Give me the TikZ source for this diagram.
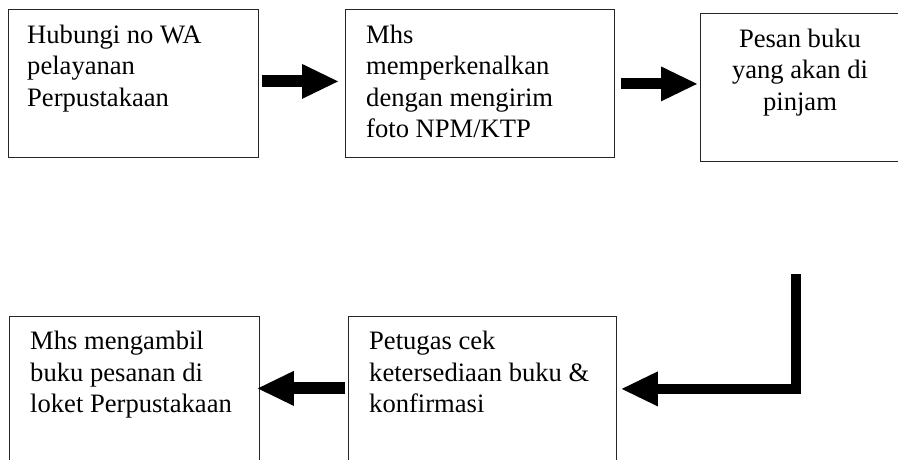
\documentclass[tikz,border=0pt]{standalone}
\usepackage{fontspec}
\setmainfont{Liberation Serif}
\usetikzlibrary{arrows.meta,calc}
\tikzset{
  box/.style={draw=black!85, line width=0.8pt, anchor=north west, inner sep=0pt, minimum height=148pt},
  lowbox/.style={box, minimum height=144pt},
  txt/.style={anchor=base west, inner sep=0pt, align=left, font=\fontsize{26.6}{31.5}\selectfont},
  ctxt/.style={txt, anchor=base, align=center},
  fat/.style={line width=#1, -{Triangle[length=36pt, width=35pt, line width=0pt]}},
}
\begin{document}
\begin{tikzpicture}[x=1pt, y=-1pt]
\useasboundingbox (0,0) rectangle (898,459);
\clip (0,0) rectangle (898,459);
\fill[white] (0,0) rectangle (898,459);
% boxes
\node[box, minimum width=250pt] (b1) at (8,9) {};
\node[box, minimum width=269pt] (b2) at (345,9) {};
\node[box, minimum width=210pt] (b3) at (700,13) {};
\node[lowbox, minimum width=250pt] (b4) at (9,316) {};
\node[lowbox, minimum width=268pt] (b5) at (348,316) {};
% texts (anchored at the baseline of the last line)
\node[txt] (t1) at (27,106) {Hubungi no WA\\pelayanan\\Perpustakaan};
\node[txt] (t2) at (366,137.5) {Mhs\\memperkenalkan\\dengan mengirim\\foto NPM/KTP};
\node[ctxt] (t3) at (800,110) {Pesan buku\\yang akan di\\pinjam};
\node[txt] (t4) at (30,412.5) {Mhs mengambil\\buku pesanan di\\loket Perpustakaan};
\node[txt] (t5) at (369,412.5) {Petugas cek\\ketersediaan buku \&\\konfirmasi};
% connectors
\coordinate (e4s) at (796,274);
\draw[fat=12pt] ($(b1.east)+(3,-2)$) -- ($(b2.west)+(-7,-2)$);
\draw[fat=11pt] ($(b2.east)+(6,0.5)$) -- ($(b3.west|-b2.east)+(-3,0.5)$);
\draw[fat=12pt] ($(b5.west)+(-3,0)$) -- ($(b4.east)+(-2,0)$);
\draw[fat=10.5pt, line join=miter] (e4s) |- ($(b5.east)+(5,0.5)$);
\end{tikzpicture}
\end{document}
